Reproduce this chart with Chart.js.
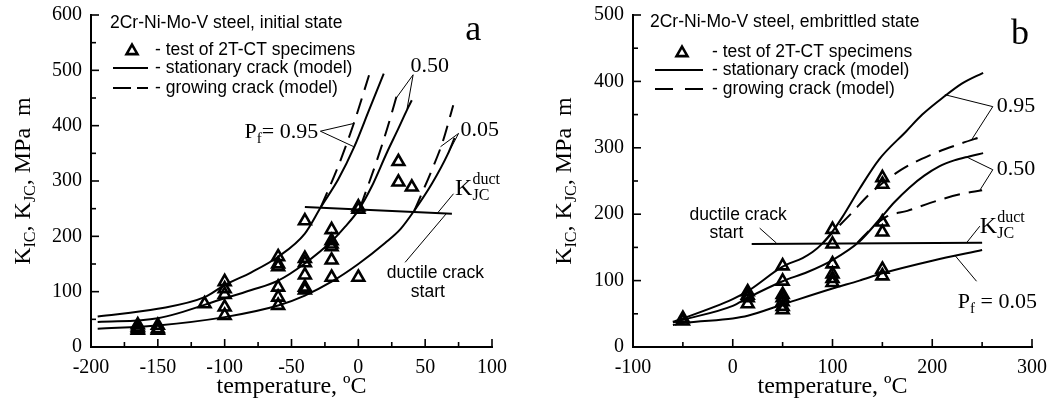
<!DOCTYPE html>
<html>
<head>
<meta charset="utf-8">
<script src="https://cdn.jsdelivr.net/npm/chart.js@4.4.0/dist/chart.umd.min.js"></script>
<style>
html, body { margin: 0; padding: 0; background: #fff; }
#wrap { position: relative; width: 1051px; height: 412px; }
canvas { position: absolute; top: 0; }
</style>
</head>
<body>
<div id="wrap">
  <canvas id="chartA" width="520" height="412" style="left:0px"></canvas>
  <canvas id="chartB" width="531" height="412" style="left:520px"></canvas>
</div>
<script>
// ---- panel a: initial state ----
const testTempA = [-165,-165,-165,-165,-150,-150,-150,-115,-100,-100,-100,-100,-100,-60,-60,-60,-60,-60,-60,-40,-40,-40,-40,-40,-40,-20,-20,-20,-20,-20,-20,0,0,0,30,30,40];
const testKA    = [40,36,33,30,39,33,30,78,118,105,95,72,57,163,150,145,108,90,75,228,160,152,130,108,103,212,192,186,181,157,126,253,249,126,335,298,289];

const stat95TempA = [-195,-150,-115,-100,-80,-60,-40,-28,-15,-3,8,19];
const stat95KA    = [55,69,90,112,135,163,205,253,303,362,428,494];
const stat50TempA = [-195,-150,-100,-80,-60,-40,-20,-10,0,10,21.5,30,36.5,40];
const stat50KA    = [45,52,88,103,120,151,191,217,247,290,352,395,429,446];
const stat05TempA = [-195,-150,-100,-60,-40,-20,0,20,31.5,42,55,67,72];
const stat05KA    = [33,39,54,75,93,118,150,188,213,247,295,349,378];

const grow95TempA = [-28,-15,-3.4,8];
const grow95KA    = [253,327,404,491];
const grow50TempA = [1.5,14,22,30];
const grow50KA    = [253,338,398,465];
const grow05TempA = [42,55,63,71];
const grow05KA    = [247,320,370,437];

const ductTempA = [-40,70];
const ductKA    = [253,241];

const xTicksA = { min: -200, max: 100, major: 50, minor: 25 };
const yTicksA = { min: 0, max: 600, major: 100, minor: 50 };

// ---- panel b: embrittled state ----
const testTempB = [-50,-50,15,15,15,15,50,50,50,50,50,50,50,100,100,100,100,100,100,150,150,150,150,150,150];
const testKB    = [43,39,83,78,74,65,122,99,79,74,68,61,56,177,155,125,110,103,97,255,245,188,173,117,107];

const stat95TempB = [-60,-50,0,15,50,70,80,90,100,110,127,147,174,190,211,230,251];
const stat95KB    = [38,43,72,84,121,134,143,156,174,196,238,283,325,350,376,397,413];
const stat50TempB = [-60,-50,0,15,50,75,100,127,147,162,177,192,207,222,237,251];
const stat50KB    = [37,41,62,74,99,113,131,159,192,218,240,258,272,281,287,292];
const stat05TempB = [-60,-50,0,15,50,100,127,150,200,250];
const stat05KB    = [33,36,43,47,64,88,100,111,130,146];

const grow95TempB = [90,105,120,137,169,198,228,250];
const grow95KB    = [156,180,203,230,267,289,306,317];
const grow50TempB = [125,140,155,175,198,228,250];
const grow50KB    = [157,180,197,205,217,230,236];

const ductTempB = [19,250];
const ductKB    = [155,157];

const xTicksB = { min: -100, max: 300, major: 100, minor: 50 };
const yTicksB = { min: 0, max: 500, major: 100, minor: 50 };

const SERIF = '"Liberation Serif", "Times New Roman", serif';
const SANS = '"Liberation Sans", Arial, sans-serif';

function pts(xs, ys) {
    return xs.map((x, i) => ({ x: x, y: ys[i] }));
}

function curve(xs, ys, dashed) {
    return {
        type: 'line',
        data: pts(xs, ys),
        borderColor: '#000',
        borderWidth: 2,
        borderDash: dashed ? [16, 9] : [],
        pointRadius: 0,
        fill: false,
        cubicInterpolationMode: 'monotone'
    };
}

function tests(xs, ys) {
    return {
        type: 'scatter',
        data: pts(xs, ys),
        pointStyle: 'triangle',
        pointRadius: 6.8,
        pointBorderWidth: 2.6,
        borderColor: '#000',
        backgroundColor: 'rgba(0,0,0,0)',
        showLine: false
    };
}

function rich(ctx, parts, x, y, align) {
    // parts: [text, family, size, dy]
    let w = 0;
    parts.forEach(p => { ctx.font = p[2] + 'px ' + p[1]; w += ctx.measureText(p[0]).width; });
    let cx = align === 'right' ? x - w : align === 'center' ? x - w / 2 : x;
    ctx.textAlign = 'left';
    ctx.textBaseline = 'alphabetic';
    parts.forEach(p => {
        ctx.font = p[2] + 'px ' + p[1];
        ctx.fillText(p[0], cx, y + p[3]);
        cx += ctx.measureText(p[0]).width;
    });
}

function line(ctx, x1, y1, x2, y2) {
    ctx.beginPath();
    ctx.moveTo(x1, y1);
    ctx.lineTo(x2, y2);
    ctx.stroke();
}

function triangle(ctx, cx, cy, r) {
    ctx.beginPath();
    ctx.moveTo(cx, cy - r);
    ctx.lineTo(cx + r * 0.866, cy + r * 0.5);
    ctx.lineTo(cx - r * 0.866, cy + r * 0.5);
    ctx.closePath();
    ctx.stroke();
}

function kduct(ctx, x, yMid) {
    const base = yMid + 8;
    ctx.textAlign = 'left';
    ctx.textBaseline = 'alphabetic';
    ctx.font = '24px ' + SERIF;
    ctx.fillText('K', x, base);
    const w = ctx.measureText('K').width;
    ctx.font = '16px ' + SERIF;
    ctx.fillText('duct', x + w, base - 11);
    ctx.fillText('JC', x + w, base + 5);
}

function decor(xt, yt, opts) {
    return {
        id: 'decor',
        afterDraw(chart) {
            const { ctx, chartArea: ca, scales } = chart;
            const X = v => scales.x.getPixelForValue(v);
            const Y = v => scales.y.getPixelForValue(v);
            ctx.save();
            ctx.fillStyle = '#000';
            ctx.strokeStyle = '#000';
            ctx.setLineDash([]);

            // inward ticks
            ctx.lineWidth = 1.6;
            for (let v = xt.min; v <= xt.max; v += xt.minor) {
                const len = (v - xt.min) % xt.major === 0 ? 8 : 5;
                line(ctx, X(v), ca.bottom, X(v), ca.bottom - len);
            }
            for (let v = yt.min; v <= yt.max; v += yt.minor) {
                const len = (v - yt.min) % yt.major === 0 ? 8 : 5;
                line(ctx, ca.left, Y(v), ca.left + len, Y(v));
            }

            // axis titles
            ctx.font = '24px ' + SERIF;
            ctx.textAlign = 'center';
            ctx.textBaseline = 'middle';
            ctx.fillText('temperature, \u00baC', (ca.left + ca.right) / 2, ca.bottom + 40);

            ctx.save();
            ctx.translate(ca.left - opts.yTitleOffset, (ca.top + ca.bottom) / 2);
            ctx.rotate(-Math.PI / 2);
            rich(ctx, [
                ['K', SERIF, 24, 0], ['IC', SERIF, 16, 5], [', K', SERIF, 24, 0], ['JC', SERIF, 16, 5],
                [', MPa  m', SERIF, 24, 0]
            ], 0, 8, 'center');
            ctx.restore();

            // legend block
            const lg = opts.legend;
            ctx.font = '17.5px ' + SANS;
            ctx.textAlign = 'left';
            ctx.textBaseline = 'middle';
            ctx.fillText(opts.title, ca.left + lg.titleX, ca.top + lg.titleY);
            ctx.fillText('- test of 2T-CT specimens', ca.left + lg.textX, ca.top + lg.rows[0]);
            ctx.fillText('- stationary crack (model)', ca.left + lg.textX, ca.top + lg.rows[1]);
            ctx.fillText('- growing crack (model)', ca.left + lg.textX, ca.top + lg.rows[2]);
            ctx.lineWidth = 2.6;
            triangle(ctx, ca.left + lg.markX, ca.top + lg.rows[0] + 1, 6.3);
            ctx.lineWidth = 2;
            line(ctx, ca.left + lg.lineX0, ca.top + lg.rows[1], ca.left + lg.lineX1, ca.top + lg.rows[1]);
            ctx.setLineDash(lg.dash);
            line(ctx, ca.left + lg.lineX0, ca.top + lg.rows[2], ca.left + lg.lineX1, ca.top + lg.rows[2]);
            ctx.setLineDash([]);

            // panel letter
            ctx.font = '36px ' + SERIF;
            ctx.textAlign = 'center';
            ctx.textBaseline = 'middle';
            ctx.fillText(opts.letter[0], X(opts.letter[1]), Y(opts.letter[2]));

            ctx.lineWidth = 1;
            opts.annotate(ctx, X, Y);
            ctx.restore();
        }
    };
}

function annotateA(ctx, X, Y) {
    // P_f = 0.95
    rich(ctx, [['P', SERIF, 22, 0], ['f', SERIF, 15, 5], ['= 0.95', SERIF, 22, 0]], X(-30), Y(392) + 8, 'right');
    line(ctx, X(-28.4), Y(390), X(-3.4), Y(404));
    line(ctx, X(-28.4), Y(390), X(-3.4), Y(362));
    // 0.50
    ctx.font = '22px ' + SERIF;
    ctx.textAlign = 'left';
    ctx.textBaseline = 'middle';
    ctx.fillText('0.50', X(39), Y(508));
    line(ctx, X(41), Y(492), X(27.8), Y(448));
    line(ctx, X(41), Y(492), X(36.5), Y(431));
    // 0.05
    ctx.fillText('0.05', X(76.4), Y(392));
    line(ctx, X(75), Y(386), X(61.5), Y(362));
    line(ctx, X(75), Y(386), X(67), Y(349));
    // K_JC^duct
    kduct(ctx, X(72.4), Y(290));
    line(ctx, X(71.2), Y(277), X(59.2), Y(242));
    // ductile crack start
    ctx.font = '17.5px ' + SANS;
    ctx.textAlign = 'center';
    ctx.textBaseline = 'middle';
    ctx.fillText('ductile crack', X(57.7), Y(133));
    ctx.fillText('start', X(52), Y(99));
    line(ctx, X(35), Y(153), X(66), Y(241.5));
}

function annotateB(ctx, X, Y) {
    ctx.font = '22px ' + SERIF;
    ctx.textAlign = 'left';
    ctx.textBaseline = 'middle';
    // 0.95
    ctx.fillText('0.95', X(264.7), Y(362));
    line(ctx, X(260.7), Y(362), X(212.6), Y(380));
    line(ctx, X(260.7), Y(362), X(239.4), Y(312));
    // 0.50
    ctx.fillText('0.50', X(264.7), Y(267));
    line(ctx, X(260.7), Y(267), X(236), Y(285));
    line(ctx, X(260.7), Y(267), X(247.7), Y(236));
    // P_f = 0.05
    rich(ctx, [['P', SERIF, 22, 0], ['f', SERIF, 15, 5], [' = 0.05', SERIF, 22, 0]], X(225.6), Y(71) + 8, 'left');
    line(ctx, X(244.4), Y(99), X(222.7), Y(138));
    // K_JC^duct
    kduct(ctx, X(247.7), Y(183));
    line(ctx, X(247.7), Y(182), X(234.4), Y(157));
    // ductile crack start
    ctx.font = '17.5px ' + SANS;
    ctx.textAlign = 'center';
    ctx.textBaseline = 'middle';
    ctx.fillText('ductile crack', X(5.3), Y(199));
    ctx.fillText('start', X(-6.3), Y(172));
    line(ctx, X(27), Y(179), X(43.8), Y(156.5));
}

function noPad(s) {
    s.paddingTop = 0;
    s.paddingBottom = 0;
    s.paddingLeft = 0;
    s.paddingRight = 0;
}

function axes(xt, yt, yWidth, xHeight) {
    const tickFont = { family: SERIF, size: 20 };
    return {
        x: {
            type: 'linear', min: xt.min, max: xt.max,
            afterFit: s => { s.height = xHeight; noPad(s); },
            ticks: { stepSize: xt.major, color: '#000', font: tickFont, padding: 9, maxRotation: 0, autoSkip: false },
            grid: { display: false, drawTicks: false },
            border: { display: true, color: '#000', width: 2 }
        },
        y: {
            type: 'linear', min: yt.min, max: yt.max,
            afterFit: s => { s.width = yWidth; noPad(s); },
            ticks: { stepSize: yt.major, color: '#000', font: tickFont, padding: 9 },
            grid: { display: false, drawTicks: false },
            border: { display: true, color: '#000', width: 2 }
        }
    };
}

new Chart(document.getElementById('chartA'), {
    type: 'scatter',
    data: {
        datasets: [
            curve(stat95TempA, stat95KA, false),
            curve(stat50TempA, stat50KA, false),
            curve(stat05TempA, stat05KA, false),
            curve(grow95TempA, grow95KA, true),
            curve(grow50TempA, grow50KA, true),
            curve(grow05TempA, grow05KA, true),
            curve(ductTempA, ductKA, false),
            tests(testTempA, testKA)
        ]
    },
    options: {
        responsive: false,
        animation: false,
        devicePixelRatio: 1,
        layout: { autoPadding: false, padding: { left: 0, top: 15, right: 28, bottom: 0 } },
        plugins: { legend: { display: false }, tooltip: { enabled: false } },
        scales: axes(xTicksA, yTicksA, 91, 65)
    },
    plugins: [decor(xTicksA, yTicksA, {
        title: '2Cr-Ni-Mo-V steel, initial state',
        letter: ['a', 86, 572],
        yTitleOffset: 69,
        legend: { titleX: 19, titleY: 8, textX: 64, markX: 41, lineX0: 22, lineX1: 57, rows: [35, 53, 73], dash: [18, 6] },
        annotate: annotateA
    })]
});

new Chart(document.getElementById('chartB'), {
    type: 'scatter',
    data: {
        datasets: [
            curve(stat95TempB, stat95KB, false),
            curve(stat50TempB, stat50KB, false),
            curve(stat05TempB, stat05KB, false),
            curve(grow95TempB, grow95KB, true),
            curve(grow50TempB, grow50KB, true),
            curve(ductTempB, ductKB, false),
            tests(testTempB, testKB)
        ]
    },
    options: {
        responsive: false,
        animation: false,
        devicePixelRatio: 1,
        layout: { autoPadding: false, padding: { left: 0, top: 15, right: 19, bottom: 0 } },
        plugins: { legend: { display: false }, tooltip: { enabled: false } },
        scales: axes(xTicksB, yTicksB, 113, 65)
    },
    plugins: [decor(xTicksB, yTicksB, {
        title: '2Cr-Ni-Mo-V steel, embrittled state',
        letter: ['b', 288, 470],
        yTitleOffset: 70,
        legend: { titleX: 17, titleY: 7, textX: 79, markX: 49, lineX0: 22, lineX1: 70, rows: [37, 55, 74], dash: [18, 12] },
        annotate: annotateB
    })]
});
</script>
</body>
</html>
